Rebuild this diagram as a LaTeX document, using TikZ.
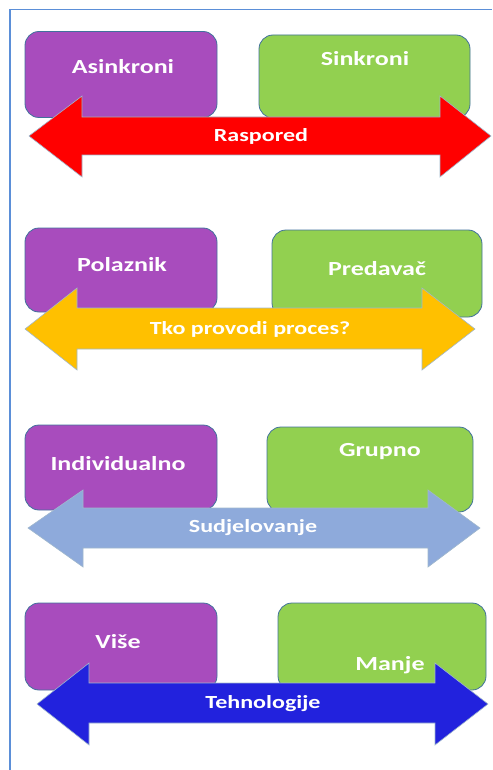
\documentclass[tikz,border=0pt]{standalone}
\usepackage{fontspec}
\usepackage{xcolor}
\newfontfamily\lblfont[FakeStretch=1.3]{Carlito}

\definecolor{framecol}{RGB}{91,143,216}
\definecolor{edgecol}{RGB}{65,113,156}
\definecolor{boxpurple}{RGB}{168,76,189}
\definecolor{boxgreen}{RGB}{146,208,80}
\definecolor{arrred}{RGB}{255,0,0}
\definecolor{arryellow}{RGB}{255,192,0}
\definecolor{arrlight}{RGB}{142,170,219}
\definecolor{arrdark}{RGB}{34,34,221}

\begin{document}
\begin{tikzpicture}[x=1pt,y=1pt,yscale=-1,xscale=1,
  purplebox/.style={draw=edgecol, line width=0.8, fill=boxpurple, rounded corners=14, minimum width=192, minimum height=86, inner sep=0},
  greenbox/.style={draw=edgecol, line width=0.8, fill=boxgreen, rounded corners=14, inner sep=0},
  arrowshape/.style={draw=edgecol!50, line width=0.6, line join=miter},
  boxlbl/.style={text=white, inner sep=0.75, font=\lblfont\bfseries\fontsize{20}{24}\selectfont},
  arrowlbl/.style={text=white, inner sep=0.75, font=\lblfont\bfseries\fontsize{18.5}{22}\selectfont}]
\useasboundingbox (0,0) rectangle (492,770);

%Frame
\draw [framecol, line width=1.5] (10,770) -- (10,9.5) -- (492,9.5) ;

%Shape: Rounded Rect [Raspored row]
\node [purplebox] (asinkroni) at (121,74.5) {};
\node [greenbox, minimum width=211, minimum height=83] (sinkroni) at (364.5,76.5) {};
%Shape: Double Arrow
\draw [arrowshape, fill=arrred] (29,136) -- (82,96) -- (82,117) -- (440,117) -- (440,96) -- (491,136) -- (440,177) -- (440,155) -- (82,155) -- (82,177) -- cycle ;

%Shape: Rounded Rect [Tko provodi row]
\node [purplebox, minimum height=84] (polaznik) at (121,270) {};
\node [greenbox, minimum width=210, minimum height=87] (predavac) at (377,273.5) {};
%Shape: Double Arrow
\draw [arrowshape, fill=arryellow] (25,329) -- (77,288) -- (77,308) -- (422,308) -- (422,288) -- (475,329) -- (422,370) -- (422,349) -- (77,349) -- (77,370) -- cycle ;

%Shape: Rounded Rect [Sudjelovanje row]
\node [purplebox, minimum height=85] (individualno) at (121,467.5) {};
\node [greenbox, minimum width=206, minimum height=85] (grupno) at (370,469.5) {};
%Shape: Double Arrow
\draw [arrowshape, fill=arrlight] (28,528) -- (83,490) -- (83,508) -- (428,508) -- (428,490) -- (480,528) -- (428,567) -- (428,548) -- (83,548) -- (83,567) -- cycle ;

%Shape: Rounded Rect [Tehnologije row]
\node [purplebox, minimum height=87] (vise) at (121,646.5) {};
\node [greenbox, minimum width=208, minimum height=87] (manje) at (382,646.5) {};
%Shape: Double Arrow
\draw [arrowshape, fill=arrdark] (37,704) -- (89,663) -- (89,683) -- (435,683) -- (435,663) -- (488,704) -- (435,745) -- (435,723) -- (89,723) -- (89,745) -- cycle ;

% Text Node
\node [boxlbl] (asinkroniT) at (123,67) {Asinkroni};
% Text Node
\node [boxlbl] (sinkroniT) at (365,59) {Sinkroni};
% Text Node
\node [arrowlbl] (rasporedT) at (261,136) {Raspored};
% Text Node
\node [boxlbl] (polaznikT) at (122,265) {Polaznik};
% Text Node
\node [boxlbl] (predavacT) at (377,269) {Predavač};
% Text Node
\node [arrowlbl] (procesT) at (250,329) {Tko provodi proces?};
% Text Node
\node [boxlbl] (individualnoT) at (118,464) {Individualno};
% Text Node
\node [boxlbl] (grupnoT) at (380,452) {Grupno};
% Text Node
\node [arrowlbl] (sudjelovanjeT) at (253,528) {Sudjelovanje};
% Text Node
\node [boxlbl] (viseT) at (118,642) {Više};
% Text Node
\node [boxlbl] (manjeT) at (390,665) {Manje};
% Text Node
\node [arrowlbl] (tehnologijeT) at (263,704) {Tehnologije};

\end{tikzpicture}
\end{document}
